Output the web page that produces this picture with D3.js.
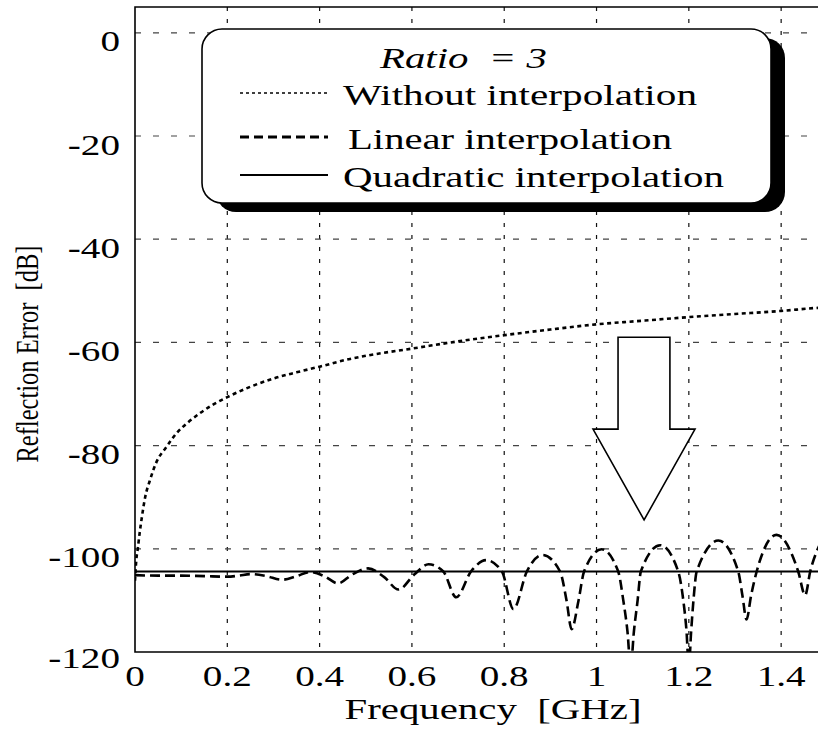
<!DOCTYPE html>
<html>
<head>
<meta charset="utf-8">
<script src="https://cdn.jsdelivr.net/npm/d3@7"></script>
<style>
  body { margin: 0; background: #fff; }
  text { font-family: "Liberation Serif", "Times New Roman", serif; fill: #000; }
</style>
</head>
<body>
<svg width="818" height="731"></svg>
<script>
// frequency in GHz, error in dB
var withoutFreq = [0, 0.003, 0.006, 0.01, 0.015, 0.022, 0.0325, 0.045, 0.0686, 0.09, 0.115, 0.141, 0.17, 0.2, 0.25, 0.3, 0.35, 0.4, 0.466, 0.5, 0.6, 0.7, 0.8, 0.9, 1.0, 1.1, 1.2, 1.3, 1.4, 1.48, 1.5];
var withoutDb = [-106.2, -102, -100, -97, -93.8, -90, -86.7, -83.5, -80.2, -77.6, -75.5, -73.7, -72, -70.6, -68.6, -67, -65.8, -64.7, -63.2, -62.6, -61.2, -59.8, -58.6, -57.5, -56.5, -55.8, -55.1, -54.5, -53.9, -53.3, -53.2];

var linearFreq = [0, 0.05, 0.1, 0.15, 0.2, 0.225, 0.25, 0.285, 0.318, 0.35, 0.379, 0.41, 0.44, 0.47, 0.505, 0.54, 0.571, 0.605, 0.636, 0.668, 0.696, 0.728, 0.761, 0.795, 0.82, 0.849, 0.883, 0.921, 0.935, 0.946, 0.961, 0.973, 1.011, 1.047, 1.058, 1.067, 1.074, 1.081, 1.089, 1.096, 1.138, 1.177, 1.188, 1.195, 1.2, 1.205, 1.21, 1.217, 1.264, 1.307, 1.316, 1.325, 1.335, 1.347, 1.39, 1.437, 1.452, 1.463, 1.48, 1.5];
var linearDb = [-105.1, -105.2, -105.2, -105.3, -105.4, -105.2, -104.9, -105.3, -106.0, -105.3, -104.5, -105.3, -106.7, -105.0, -103.8, -105.5, -107.9, -105.0, -103.0, -104.4, -109.4, -104.4, -102.2, -104.4, -111.7, -104.4, -101.2, -104.4, -110, -115.6, -110, -104.4, -100.1, -104.4, -110, -116, -123, -116, -110, -104.4, -99.3, -104.4, -110, -116, -123, -116, -110, -104.4, -98.4, -104.4, -109, -113.7, -109, -104.4, -97.3, -104.4, -109.0, -104.4, -99.9, -97.2];

var quadFreq = [0, 1.5];
var quadDb = [-104.4, -104.4];

var xTicks = [0, 0.2, 0.4, 0.6, 0.8, 1, 1.2, 1.4];
var yTicks = [0, -20, -40, -60, -80, -100, -120];

var legendLabels = ["Without interpolation", "Linear interpolation", "Quadratic interpolation"];

// arrow outline, in data units
var arrowFreq = [1.0466, 1.159, 1.159, 1.2134, 1.103, 0.9924, 1.0466];
var arrowDb = [-59.0, -59.0, -76.8, -76.8, -94.4, -76.8, -76.8];

window.onload = function() {
    makeChart();
}

function makeChart() {
    var svg = d3.select("svg");
    var pl = 135, pt = 7, pb = 652, pr = 827.3;

    var x = d3.scaleLinear().domain([0, 1.5]).range([pl, pr]);
    var y = d3.scaleLinear().domain([-120, 5]).range([pb, pt]);

    // widen text like the original's stretched Times
    function widen(sel, k) {
        sel.each(function() {
            var w = this.getComputedTextLength();
            d3.select(this).attr("textLength", w * k).attr("lengthAdjust", "spacingAndGlyphs");
        });
    }

    svg.append("clipPath").attr("id", "plot")
        .append("rect").attr("x", pl).attr("y", pt)
        .attr("width", pr - pl).attr("height", pb - pt);

    // grid
    svg.append("g").selectAll("line")
        .data(xTicks.slice(1))
        .enter().append("line")
        .attr("x1", function(d) { return x(d); })
        .attr("x2", function(d) { return x(d); })
        .attr("y1", pt).attr("y2", pb)
        .attr("stroke", "#111").attr("stroke-width", 1.2)
        .attr("stroke-dasharray", "4,8");

    svg.append("g").selectAll("line")
        .data(yTicks.slice(0, -1))
        .enter().append("line")
        .attr("x1", pl).attr("x2", pr)
        .attr("y1", function(d) { return y(d); })
        .attr("y2", function(d) { return y(d); })
        .attr("stroke", "#444").attr("stroke-width", 1.2)
        .attr("stroke-dasharray", "6,12");

    // curves
    var line = d3.line()
        .x(function(d) { return x(d[0]); })
        .y(function(d) { return y(d[1]); })
        .curve(d3.curveMonotoneX);

    var curves = svg.append("g").attr("clip-path", "url(#plot)").attr("fill", "none");

    curves.append("path")
        .attr("d", line(d3.zip(withoutFreq, withoutDb)))
        .attr("stroke", "#000").attr("stroke-width", 2.6)
        .attr("stroke-dasharray", "4,3.5");

    curves.append("path")
        .attr("d", line(d3.zip(linearFreq, linearDb)))
        .attr("stroke", "#000").attr("stroke-width", 2.6)
        .attr("stroke-dasharray", "10,5");

    curves.append("path")
        .attr("d", line(d3.zip(quadFreq, quadDb)))
        .attr("stroke", "#000").attr("stroke-width", 2);

    // arrow
    svg.append("path")
        .attr("d", d3.line()
            .x(function(d) { return x(d[0]); })
            .y(function(d) { return y(d[1]); })(d3.zip(arrowFreq, arrowDb)) + "Z")
        .attr("fill", "#fff").attr("stroke", "#000").attr("stroke-width", 1.6);

    // frame (right side is cut off)
    svg.append("path")
        .attr("d", "M" + pr + "," + pt + "H" + pl + "V" + pb + "H" + pr)
        .attr("fill", "none").attr("stroke", "#000").attr("stroke-width", 1.6);

    // tick labels
    var yl = svg.append("g").selectAll("text")
        .data(yTicks)
        .enter().append("text")
        .attr("x", 120)
        .attr("y", function(d) { return d === -120 ? y(d) + 16 : y(d) + 18.5; })
        .attr("text-anchor", "end")
        .attr("font-size", 29)
        .text(function(d) { return d; });
    widen(yl, 1.35);

    var xl = svg.append("g").selectAll("text")
        .data(xTicks)
        .enter().append("text")
        .attr("x", function(d) { return x(d); })
        .attr("y", 686)
        .attr("text-anchor", "middle")
        .attr("font-size", 29)
        .text(function(d) { return d; });
    widen(xl, 1.35);

    // axis titles
    svg.append("text")
        .attr("x", 493).attr("y", 719)
        .attr("text-anchor", "middle")
        .attr("font-size", 29)
        .attr("xml:space", "preserve")
        .attr("textLength", 297).attr("lengthAdjust", "spacingAndGlyphs")
        .text("Frequency  [GHz]");

    svg.append("text")
        .attr("transform", "translate(38,354) rotate(-90)")
        .attr("text-anchor", "middle")
        .attr("font-size", 31)
        .attr("xml:space", "preserve")
        .attr("textLength", 217).attr("lengthAdjust", "spacingAndGlyphs")
        .text("Reflection Error  [dB]");

    // legend
    var lg = svg.append("g");
    lg.append("rect")
        .attr("x", 216).attr("y", 38).attr("width", 569).attr("height", 174)
        .attr("rx", 20).attr("fill", "#000");
    lg.append("rect")
        .attr("x", 202).attr("y", 29).attr("width", 569).attr("height", 174)
        .attr("rx", 20).attr("fill", "#fff")
        .attr("stroke", "#000").attr("stroke-width", 1.6);

    lg.append("text")
        .attr("x", 380).attr("y", 68)
        .attr("font-size", 29).attr("font-style", "italic")
        .attr("xml:space", "preserve")
        .attr("textLength", 167).attr("lengthAdjust", "spacingAndGlyphs")
        .text("Ratio  = 3");

    var rowY = [93, 137, 175];
    var rowDash = ["3,3", "9,5", null];
    var rowWidth = [1.5, 3, 1.8];
    var rowTextX = [343, 348, 343];
    var rowTextW = [354, 324, 381];

    legendLabels.forEach(function(lab, i) {
        lg.append("line")
            .attr("x1", 240).attr("x2", 328)
            .attr("y1", rowY[i]).attr("y2", rowY[i])
            .attr("stroke", "#000").attr("stroke-width", rowWidth[i])
            .attr("stroke-dasharray", rowDash[i]);
        lg.append("text")
            .attr("x", rowTextX[i]).attr("y", rowY[i] + 12)
            .attr("font-size", 29)
            .attr("textLength", rowTextW[i]).attr("lengthAdjust", "spacingAndGlyphs")
            .text(lab);
    });
}
</script>
</body>
</html>
